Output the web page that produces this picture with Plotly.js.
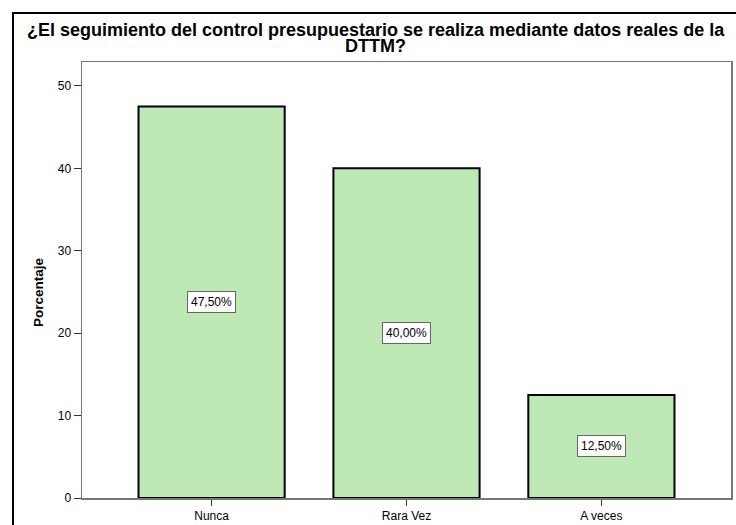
<!DOCTYPE html>
<html>
<head>
<meta charset="utf-8">
<script src="https://cdn.plot.ly/plotly-3.0.1.min.js"></script>
<style>
  html, body { margin: 0; padding: 0; background: #fff; }
  #chart { width: 736px; height: 525px; }
</style>
</head>
<body>
<div id="chart"></div>
<script>
// Respuestas y porcentajes
const categories = ["Nunca", "Rara Vez", "A veces"];
const percentages = [47.5, 40.0, 12.5];
const yTickValues = [0, 10, 20, 30, 40, 50];
const titleLine1 = "¿El seguimiento del control presupuestario se realiza mediante datos reales de la";
const titleLine2 = "DTTM?";
const yTitle = "Porcentaje";

const FONT = "Arial, 'Liberation Sans', sans-serif";
const fmt = v => v.toFixed(2).replace(".", ",") + "%";

const bars = {
  type: "bar",
  x: categories,
  y: percentages,
  width: 0.75,
  marker: {
    color: "rgb(190,232,180)",
    line: { color: "#000", width: 2 }
  },
  hoverinfo: "skip"
};

// Etiquetas de valor en el centro de cada barra
const valueLabels = categories.map((c, i) => ({
  x: c,
  y: percentages[i] / 2,
  xref: "x",
  yref: "y",
  text: fmt(percentages[i]),
  showarrow: false,
  font: { family: FONT, size: 12, color: "#000" },
  bgcolor: "#fff",
  bordercolor: "#666",
  borderwidth: 1,
  borderpad: 3
}));

// Título en dos líneas, con interlineado estrecho
const titleNotes = [
  { text: titleLine1, y: 1.0745 },
  { text: titleLine2, y: 1.0378 }
].map(t => ({
  x: 0.453,
  y: t.y,
  xref: "paper",
  yref: "paper",
  xanchor: "center",
  yanchor: "middle",
  text: "<b>" + t.text + "</b>",
  showarrow: false,
  font: { family: FONT, size: 18, color: "#000" }
}));

const yTitleNote = {
  x: -0.0663,
  y: 0.4725,
  xref: "paper",
  yref: "paper",
  xanchor: "center",
  yanchor: "middle",
  textangle: -90,
  text: "<b>" + yTitle + "</b>",
  showarrow: false,
  font: { family: FONT, size: 13.5, color: "#000" }
};

const layout = {
  width: 736,
  height: 525,
  margin: { l: 82, r: 5, t: 62, b: 27 },
  paper_bgcolor: "#fff",
  plot_bgcolor: "#fff",
  showlegend: false,
  font: { family: FONT, size: 12, color: "#000" },
  xaxis: {
    type: "category",
    range: [-0.665, 2.665],
    showline: true,
    mirror: true,
    linecolor: "#777",
    linewidth: 1.5,
    ticks: "outside",
    ticklen: 6,
    tickcolor: "#333",
    tickwidth: 1,
    showgrid: false,
    zeroline: false,
    tickfont: { family: FONT, size: 12, color: "#000" },
    fixedrange: true
  },
  yaxis: {
    range: [0, 52.9],
    tickvals: yTickValues,
    showline: true,
    mirror: true,
    linecolor: "#777",
    linewidth: 1.5,
    ticks: "outside",
    ticklen: 7,
    tickcolor: "#333",
    tickwidth: 1,
    showgrid: false,
    zeroline: false,
    tickfont: { family: FONT, size: 12, color: "#000" },
    fixedrange: true
  },
  annotations: valueLabels.concat(titleNotes, [yTitleNote]),
  shapes: [
    {
      type: "rect",
      xref: "paper",
      yref: "paper",
      x0: -0.1063,
      x1: 1.3,
      y0: -0.3,
      y1: 1.1124,
      line: { color: "#000", width: 2 },
      fillcolor: "rgba(0,0,0,0)",
      layer: "above"
    }
  ]
};

Plotly.newPlot("chart", [bars], layout, { displayModeBar: false, staticPlot: true });
</script>
</body>
</html>
